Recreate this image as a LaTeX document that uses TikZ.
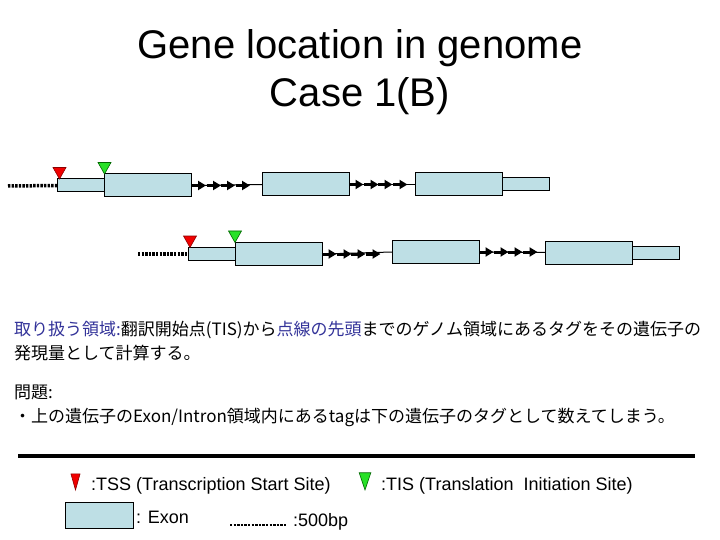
\documentclass[tikz,border=0pt]{standalone}
\usepackage{fontspec}
\setmainfont{Liberation Sans}
\newfontfamily\jpfont{Noto Sans CJK JP}
\usepackage{xcolor}
\usetikzlibrary{positioning,arrows.meta}

\definecolor{exonblue}{RGB}{190,223,229}
\definecolor{jpblue}{RGB}{51,51,153}
\definecolor{tssred}{RGB}{240,0,0}
\definecolor{tisgreen}{RGB}{40,225,40}

\begin{document}
\begin{tikzpicture}[
    x=1pt, y=-1pt,
    exon/.style={draw, line width=1pt, fill=exonblue, minimum width=87pt, minimum height=23pt, inner sep=0pt, outer sep=0pt},
    utr/.style={exon, minimum width=47pt, minimum height=13pt},
    upstream/.style={line width=3.5pt, dash pattern=on 2.4pt off 1.2pt},
    intron/.style={line width=1pt},
    introntip/.style={line width=3pt, -{Triangle[length=8pt,width=9pt]}},
    title/.style={font=\fontsize{40}{48}\selectfont, anchor=base},
    jptext/.style={font=\jpfont\fontsize{17}{24}\selectfont, anchor=base west, inner sep=0pt},
    legend/.style={font=\fontsize{18}{22}\selectfont, anchor=base west, inner sep=0pt},
    tssmark/.pic={\filldraw[fill=tssred, draw=red!55!black, line width=0.6pt] (0,0) -- (-6.5,-11.5) -- (6.5,-11.5) -- cycle;},
    tismark/.pic={\filldraw[fill=tisgreen, draw=green!40!black, line width=0.6pt] (0,0) -- (-6.5,-11.5) -- (6.5,-11.5) -- cycle;},
]
    \useasboundingbox (0,0) rectangle (720,540);

    % title
    \node[title] (title1) at (360,59) {Gene location in genome};
    \node[title] (title2) at (360,107) {Case 1(B)};

    % upper gene
    \node[utr] (u1) at (81,185.5) {};
    \node[exon, right=0pt of u1] (e1a) {};
    \node[exon] (e1b) at (305.5,184.5) {};
    \node[exon] (e1c) at (458.5,184.5) {};
    \node[utr, right=0pt of e1c] (u1b) {};
    \coordinate (up1) at (8,186);
    \draw[upstream] (up1) -- (u1.west);

    % lower gene
    \node[utr] (u2) at (211.5,254) {};
    \node[exon, right=0pt of u2] (e2a) {};
    \node[exon] (e2b) at (435.5,252) {};
    \node[exon] (e2c) at (588.5,252.5) {};
    \node[utr, right=0pt of e2c] (u2b) {};
    \coordinate (up2) at (138,254);
    \draw[upstream] (up2) -- (u2.west);

    % introns
    \foreach \a/\b in {e1a/e1b, e1b/e1c, e2a/e2b, e2b/e2c} {
        \draw[intron] (\a.east) -- (\b.west);
        \foreach \s in {0,15,29,44}
            \draw[introntip] ([xshift=\s pt]\a.east) -- ++(14.5,0);
    }

    % TSS / TIS
    \pic at ([xshift=2pt]u1.north west) {tssmark};
    \pic at (e1a.north west) {tismark};
    \pic at ([xshift=2pt]u2.north west) {tssmark};
    \pic at (e2a.north west) {tismark};

    % text
    \node[jptext] (scope1) at (14,335) {\textcolor{jpblue}{取り扱う領域:}翻訳開始点(TIS)から\textcolor{jpblue}{点線の先頭}までのゲノム領域にあるタグをその遺伝子の};
    \node[jptext] (scope2) at (14,359) {発現量として計算する。};
    \node[jptext] (problem1) at (14,398) {問題:};
    \node[jptext] (problem2) at (14,422) {・上の遺伝子のExon/Intron領域内にあるtagは下の遺伝子のタグとして数えてしまう。};

    \draw[line width=4.5pt] (18,456) -- (695,456);

    % legend
    \pic[xscale=0.7, yscale=1.4] at (75.5,490) {tssmark};
    \node[legend] (tsslabel) at (91,490) {:TSS (Transcription Start Site)};
    \pic[xscale=0.9, yscale=1.5] at (365,490) {tismark};
    \node[legend] (tislabel) at (381,490) {:TIS (Translation\ \ Initiation Site)};
    \node[exon, minimum width=68pt, minimum height=26pt] (exonkey) at (99,515) {};
    \node[legend] (exonlabel) at (136,523) {: Exon};
    \coordinate (scalekey) at (230,525);
    \coordinate (scalekeyend) at (287,525);
    \draw[upstream, line width=2.5pt] (scalekey) -- (scalekeyend);
    \node[legend] (scalelabel) at (293,526) {:500bp};
\end{tikzpicture}
\end{document}
